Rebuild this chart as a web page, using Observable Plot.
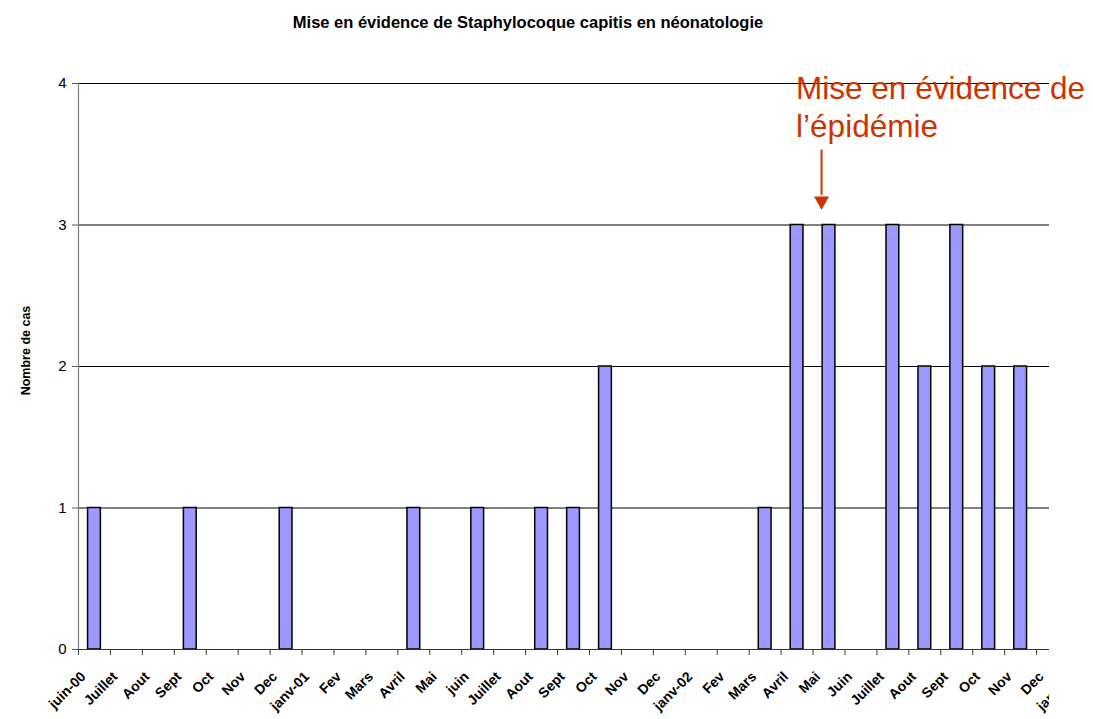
<!DOCTYPE html>
<html>
<head>
<meta charset="utf-8">
<script src="https://cdn.jsdelivr.net/npm/d3@7"></script>
<script src="https://cdn.jsdelivr.net/npm/@observablehq/plot@0.6"></script>
<style>
  html, body { margin: 0; padding: 0; background: white; }
  body { width: 1093px; height: 719px; overflow: hidden; font-family: "Liberation Sans", Arial, sans-serif; }
  #title { height: 40px; box-sizing: border-box; padding-top: 12px; width: 1056px; text-align: center;
           font-weight: bold; font-size: 16.5px; line-height: 20px; color: #000; }
</style>
</head>
<body>
<div id="title">Mise en évidence de Staphylocoque capitis en néonatologie</div>
<div id="chart"></div>
<script>
const months = ["juin-00","Juillet","Aout","Sept","Oct","Nov","Dec","janv-01","Fev","Mars","Avril","Mai",
                "juin","Juillet","Aout","Sept","Oct","Nov","Dec","janv-02","Fev","Mars","Avril","Mai",
                "Juin","Juillet","Aout","Sept","Oct","Nov","Dec","janv-03"];
const cases = [1,0,0,1,0,0,1,0,0,0,1,0,1,0,1,1,2,0,0,0,0,1,3,3,0,3,2,3,2,2,0,0];
const yTicks = [0,1,2,3,4];
const yLabel = "Nombre de cas";
const annotation = "Mise en évidence de\nl’épidémie";
const annotationMonth = 23;   // Mai 2002
const annotationTextMonth = 22;
const arrowTop = 3.53, arrowTip = 3.17;

const idx = months.map((_, i) => i);
const data = idx.map(i => ({i, label: months[i], v: cases[i]}));
const visibleTicks = idx.slice(0, 31);
const red = "#cc3300";
const font = "Liberation Sans, Arial, sans-serif";

const plot = Plot.plot({
  width: 1093,
  height: 679,
  marginTop: 43,
  marginBottom: 70,
  marginLeft: 78,
  marginRight: 44,
  style: {fontFamily: font, background: "white", color: "black"},
  x: {type: "band", domain: idx, range: [78, 1100], paddingInner: 0.6, paddingOuter: 0.3, round: false, axis: null},
  y: {domain: [0, 4], axis: null},
  marks: [
    Plot.ruleY(yTicks.filter(d => d > 0), {stroke: "black", strokeWidth: 1}),
    Plot.barY(data.filter(d => d.v > 0), {x: "i", y: "v", fill: "#9999ff", stroke: "black", strokeWidth: 1.5}),
    Plot.ruleY([0], {stroke: "#333", strokeWidth: 1}),
    Plot.frame({anchor: "left", stroke: "#808080", strokeWidth: 1.2}),
    Plot.axisY({ticks: yTicks, tickSize: 6, tickPadding: 6, fontSize: 15, label: null,
                tickFormat: d3.format("d"), stroke: "#555"}),
    Plot.axisX({ticks: visibleTicks, tickSize: 6, tickFormat: () => "", label: null, dx: -16, stroke: "#333"}),
    Plot.text(idx, {x: d => d, text: d => months[d], frameAnchor: "bottom", rotate: -45, textAnchor: "end",
                    fontWeight: "bold", fontSize: 14, dx: -8, dy: 28, fill: "black"}),
    Plot.text([yLabel], {text: d => d, frameAnchor: "left", textAnchor: "middle", rotate: -90, dx: -53, dy: -16,
                         fontWeight: "bold", fontSize: 12.5, fill: "black"}),
    Plot.ruleX([annotationMonth], {x: d => d, y1: arrowTop, y2: arrowTip + 0.04, dx: -7.5, stroke: red, strokeWidth: 2}),
    Plot.dot([annotationMonth], {x: d => d, y: arrowTip, symbol: "triangle", rotate: 180, r: 5.6, dx: -7.5,
                                 fill: red, stroke: "none"}),
    Plot.text([annotation], {x: () => annotationTextMonth, text: d => d, frameAnchor: "top", textAnchor: "start",
                             lineAnchor: "top", lineHeight: 1.2, fontSize: 31.5, fill: red, dx: -1, dy: -11})
  ]
});

// clip the month labels at the right edge of the plot area, as in the source chart
const svg = d3.select(plot);
svg.append("defs").append("clipPath").attr("id", "clip-labels")
  .append("rect").attr("x", 0).attr("y", 0).attr("width", 1049).attr("height", 679);
const lastLabel = svg.selectAll("text").filter(function() { return this.textContent === months[months.length - 1]; }).node();
if (lastLabel) {
  let group = lastLabel.parentNode;
  while (group && group.parentNode !== plot) group = group.parentNode;
  if (group) {
    const wrapper = document.createElementNS("http://www.w3.org/2000/svg", "g");
    wrapper.setAttribute("clip-path", "url(#clip-labels)");
    plot.insertBefore(wrapper, group);
    wrapper.appendChild(group);
  }
}

document.getElementById("chart").appendChild(plot);
</script>
</body>
</html>
